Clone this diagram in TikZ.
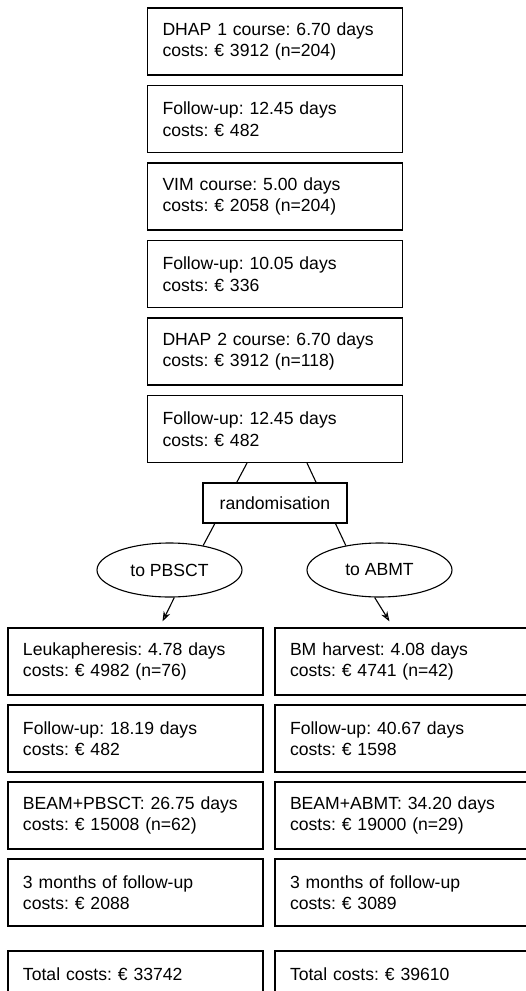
\documentclass[tikz,border=0pt]{standalone}
\usepackage{fontspec}
\setmainfont{Liberation Sans}
\frenchspacing
\usetikzlibrary{shapes.geometric,arrows.meta}
\begin{document}
\begin{tikzpicture}[x=1pt,y=-1pt,line width=1.1pt,
    font=\fontsize{17.6}{21.5}\selectfont,
    costbox/.style={draw,rectangle,text width=225pt,minimum height=67pt,inner xsep=15pt,align=left},
    armnode/.style={draw,ellipse,minimum width=145pt,minimum height=54pt,inner sep=0pt},
    randbox/.style={draw,rectangle,fill=white,minimum width=144pt,minimum height=40pt,inner sep=0pt},
    >={Stealth[length=10pt,width=7pt,fill=gray!60]}]
  \useasboundingbox (0,0) rectangle (526,991);
  \clip (0,0) rectangle (526,991);
  % common part
  \node[costbox] (dhap1) at (275,41.5) {DHAP 1 course: 6.70 days\\costs: € 3912 (n=204)};
  \node[costbox] (fu1) at (275,119) {Follow-up: 12.45 days\\costs: € 482};
  \node[costbox] (vim) at (275,196.5) {VIM course: 5.00 days\\costs: € 2058 (n=204)};
  \node[costbox] (fu2) at (275,274) {Follow-up: 10.05 days\\costs: € 336};
  \node[costbox] (dhap2) at (275,351.5) {DHAP 2 course: 6.70 days\\costs: € 3912 (n=118)};
  \node[costbox] (fu3) at (275,429) {Follow-up: 12.45 days\\costs: € 482};
  % the two arms
  \node[armnode] (pbsct) at (169.5,570) {to PBSCT};
  \node[armnode] (abmt) at (379.5,570) {to ABMT};
  \draw ([xshift=-28pt]fu3.south) -- (pbsct.36);
  \draw ([xshift=32pt]fu3.south) -- (abmt.144);
  \node[randbox] (rand) at (275,503) {randomisation};
  % PBSCT arm
  \node[costbox] (leuk) at (135.5,661.5) {Leukapheresis: 4.78 days\\costs: € 4982 (n=76)};
  \node[costbox] (fuP) at (135.5,738.5) {Follow-up: 18.19 days\\costs: € 482};
  \node[costbox] (beamP) at (135.5,815.5) {BEAM+PBSCT: 26.75 days\\costs: € 15008 (n=62)};
  \node[costbox] (tmP) at (135.5,892.5) {3 months of follow-up\\costs: € 2088};
  \node[costbox] (totP) at (135.5,984.5) {Total costs: € 33742\\\mbox{}};
  % ABMT arm
  \node[costbox] (bmh) at (402.5,661.5) {BM harvest: 4.08 days\\costs: € 4741 (n=42)};
  \node[costbox] (fuA) at (402.5,738.5) {Follow-up: 40.67 days\\costs: € 1598};
  \node[costbox] (beamA) at (402.5,815.5) {BEAM+ABMT: 34.20 days\\costs: € 19000 (n=29)};
  \node[costbox] (tmA) at (402.5,892.5) {3 months of follow-up\\costs: € 3089};
  \node[costbox] (totA) at (402.5,984.5) {Total costs: € 39610\\\mbox{}};
  \draw[->] (pbsct.-80) -- ([xshift=27pt,yshift=6pt]leuk.north);
  \draw[->] (abmt.-100) -- ([xshift=-13pt,yshift=6pt]bmh.north);
\end{tikzpicture}
\end{document}
